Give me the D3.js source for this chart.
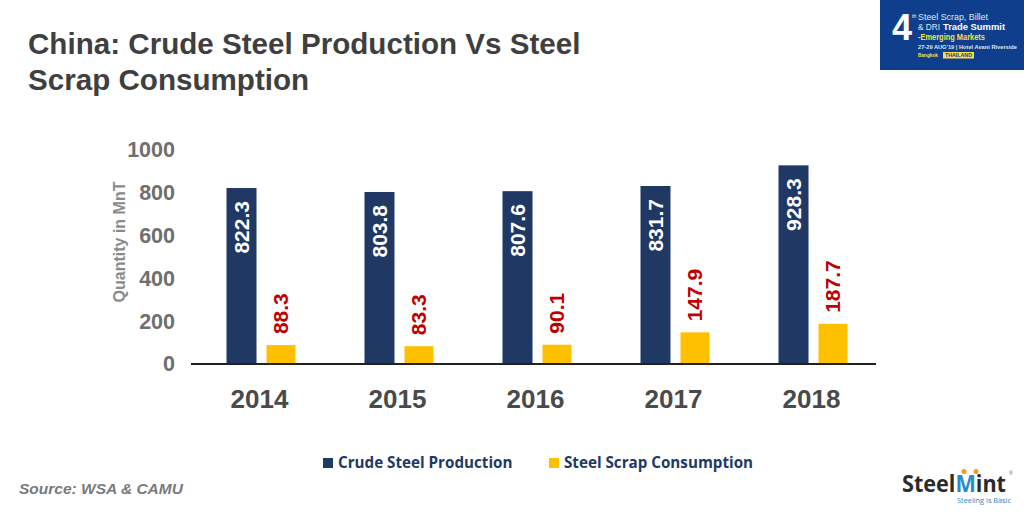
<!DOCTYPE html>
<html>
<head>
<meta charset="utf-8">
<script src="https://cdnjs.cloudflare.com/ajax/libs/d3/7.8.5/d3.min.js"></script>
<style>
  html, body { margin: 0; padding: 0; background: #fff; }
  svg { display: block; }
  text { font-family: "Liberation Sans", Arial, sans-serif; }
</style>
</head>
<body>
<svg id="chart" width="1024" height="512"></svg>
<script>
const years = ["2014", "2015", "2016", "2017", "2018"];
const crudeSteel = [822.3, 803.8, 807.6, 831.7, 928.3];
const steelScrap = [88.3, 83.3, 90.1, 147.9, 187.7];
const yTicks = [0, 200, 400, 600, 800, 1000];
const titleLines = ["China: Crude Steel Production Vs Steel", "Scrap Consumption"];
const legendNames = ["Crude Steel Production", "Steel Scrap Consumption"];

const svg = d3.select("#chart");
const navy = "#1f3864";
const amber = "#ffc000";
const grey = "#6f6f6f";

// scales
const x = d3.scaleBand().domain(years).range([190.5, 880.5]);
const y = d3.scaleLinear().domain([0, 1000]).range([364, 150]);

// title
svg.append("g")
  .selectAll("text")
  .data(titleLines)
  .join("text")
  .attr("x", 28)
  .attr("y", (d, i) => 54 + i * 36)
  .attr("font-size", 29.6)
  .attr("font-weight", 700)
  .attr("fill", "#3f3f3f")
  .text((d) => d);

// y axis labels only, no line
const yAxis = svg.append("g")
  .attr("transform", "translate(175,0)")
  .call(d3.axisLeft(y).tickValues(yTicks).tickSize(0).tickPadding(0).tickFormat(d3.format("d")));
yAxis.select(".domain").remove();
yAxis.selectAll("text")
  .attr("font-size", 21.5)
  .attr("font-weight", 700)
  .attr("fill", grey)
  .style("font-family", '"Liberation Sans", Arial, sans-serif');

svg.append("text")
  .attr("transform", "translate(125,242) rotate(-90)")
  .attr("text-anchor", "middle")
  .attr("font-size", 16)
  .attr("font-weight", 700)
  .attr("fill", "#8a8a8a")
  .text("Quantity in MnT");

// bars
const barOffsetCrude = -33;
const barOffsetScrap = 7;
const crudeWidth = 30;
const scrapWidth = 29;
const center = (yr) => x(yr) + x.bandwidth() / 2;

svg.append("g")
  .selectAll("rect")
  .data(crudeSteel)
  .join("rect")
  .attr("x", (d, i) => center(years[i]) + barOffsetCrude)
  .attr("y", (d) => y(d))
  .attr("width", crudeWidth)
  .attr("height", (d) => y(0) - y(d))
  .attr("fill", navy);

svg.append("g")
  .selectAll("rect")
  .data(steelScrap)
  .join("rect")
  .attr("x", (d, i) => center(years[i]) + barOffsetScrap)
  .attr("y", (d) => y(d))
  .attr("width", scrapWidth)
  .attr("height", (d) => y(0) - y(d))
  .attr("fill", amber);

// value labels, rotated
svg.append("g")
  .selectAll("text")
  .data(crudeSteel)
  .join("text")
  .attr("transform", (d, i) =>
    `translate(${center(years[i]) + barOffsetCrude + crudeWidth / 2 + 7},${y(d) + 13}) rotate(-90)`)
  .attr("text-anchor", "end")
  .attr("font-size", 21)
  .attr("font-weight", 700)
  .attr("fill", "#fff")
  .text((d) => d.toFixed(1));

svg.append("g")
  .selectAll("text")
  .data(steelScrap)
  .join("text")
  .attr("transform", (d, i) =>
    `translate(${center(years[i]) + barOffsetScrap + scrapWidth / 2 + 7},${y(d) - 11}) rotate(-90)`)
  .attr("font-size", 21)
  .attr("font-weight", 700)
  .attr("fill", "#c00000")
  .text((d) => d.toFixed(1));

// baseline + year labels
const xAxis = svg.append("g")
  .attr("transform", `translate(0,${y(0)})`)
  .call(d3.axisBottom(x).tickSize(0).tickPadding(26));
xAxis.select(".domain").remove();
xAxis.selectAll("text")
  .attr("font-size", 26)
  .attr("font-weight", 700)
  .attr("fill", "#4a4a4a")
  .style("font-family", '"Liberation Sans", Arial, sans-serif');
xAxis.append("line")
  .attr("x1", 191)
  .attr("x2", 876)
  .attr("stroke", "#222")
  .attr("stroke-width", 2);

// legend
const legendX = [323, 549];
const legendColors = [navy, amber];
const legend = svg.append("g");
legend.selectAll("rect")
  .data(legendNames)
  .join("rect")
  .attr("x", (d, i) => legendX[i])
  .attr("y", 458)
  .attr("width", 10)
  .attr("height", 10)
  .attr("fill", (d, i) => legendColors[i]);
legend.selectAll("text")
  .data(legendNames)
  .join("text")
  .attr("x", (d, i) => legendX[i] + 15)
  .attr("y", 468)
  .attr("font-size", 15.2)
  .attr("font-weight", 700)
  .attr("fill", navy)
  .style("font-family", '"Open Sans", "Noto Sans", sans-serif')
  .text((d) => d);

// source
svg.append("text")
  .attr("x", 19)
  .attr("y", 494)
  .attr("font-size", 15.5)
  .attr("font-weight", 700)
  .attr("font-style", "italic")
  .attr("fill", "#7a7a7a")
  .text("Source: WSA & CAMU");

// summit badge, top right
const badge = svg.append("g");
badge.append("rect")
  .attr("x", 880).attr("y", 0).attr("width", 144).attr("height", 70)
  .attr("fill", "#0f3f8c");
badge.append("text")
  .attr("x", 892).attr("y", 40)
  .attr("font-size", 36).attr("font-weight", 700).attr("fill", "#fff")
  .text("4");
badge.append("text")
  .attr("x", 912).attr("y", 18)
  .attr("font-size", 5).attr("fill", "#fff")
  .text("th");
const badgeLines = [
  { t: "Steel Scrap, Billet", y: 20, s: 9, c: "#dfe6f2", w: 400, x: 918, len: 70 },
  { t: "& DRI", y: 30, s: 9, c: "#dfe6f2", w: 400, x: 918, len: 22 },
  { t: "Trade Summit", y: 30, s: 9, c: "#fff", w: 700, x: 943, len: 62 },
  { t: "-Emerging Markets", y: 39.5, s: 8.5, c: "#f2e24a", w: 700, x: 918, len: 67 },
  { t: "27-29 AUG'19 | Hotel Avani Riverside", y: 49, s: 5, c: "#dfe6f2", w: 700, x: 918, len: 99 },
  { t: "Bangkok", y: 57, s: 5, c: "#f2e24a", w: 700, x: 918, len: 20 },
];
badge.append("rect")
  .attr("x", 943).attr("y", 52).attr("width", 31).attr("height", 6.5)
  .attr("fill", "#f2e24a");
badge.selectAll("text.line")
  .data(badgeLines)
  .join("text")
  .attr("class", "line")
  .attr("x", (d) => d.x)
  .attr("y", (d) => d.y)
  .attr("font-size", (d) => d.s)
  .attr("font-weight", (d) => d.w)
  .attr("fill", (d) => d.c)
  .attr("textLength", (d) => d.len)
  .attr("lengthAdjust", "spacingAndGlyphs")
  .text((d) => d.t);
badge.append("text")
  .attr("x", 945).attr("y", 57.3)
  .attr("font-size", 5).attr("font-weight", 700).attr("fill", "#0f3f8c")
  .attr("textLength", 27).attr("lengthAdjust", "spacingAndGlyphs")
  .text("THAILAND");

// SteelMint logo, bottom right
const logo = svg.append("g");
const logoWord = logo.append("text")
  .attr("x", 902).attr("y", 492)
  .attr("font-size", 24).attr("font-weight", 700)
  .attr("textLength", 104).attr("lengthAdjust", "spacingAndGlyphs")
  .attr("fill", "#2b2b2b")
  .style("font-family", '"Open Sans", sans-serif');
logoWord.append("tspan").text("Steel");
logoWord.append("tspan").attr("fill", "#2a8ac4").text("M");
logoWord.append("tspan").text("int");
logo.selectAll("circle")
  .data([964, 976])
  .join("circle")
  .attr("cx", (d) => d).attr("cy", 471.5).attr("r", 2.5)
  .attr("fill", "#f29a1f");
logo.append("text")
  .attr("x", 957).attr("y", 503)
  .attr("font-size", 8)
  .attr("textLength", 54).attr("lengthAdjust", "spacingAndGlyphs")
  .attr("fill", "#2a8ac4")
  .style("font-family", '"Open Sans", sans-serif')
  .text("Steeling is Basic");
logo.append("text")
  .attr("x", 1009).attr("y", 475)
  .attr("font-size", 5).attr("fill", "#555")
  .text("®");
</script>
</body>
</html>
